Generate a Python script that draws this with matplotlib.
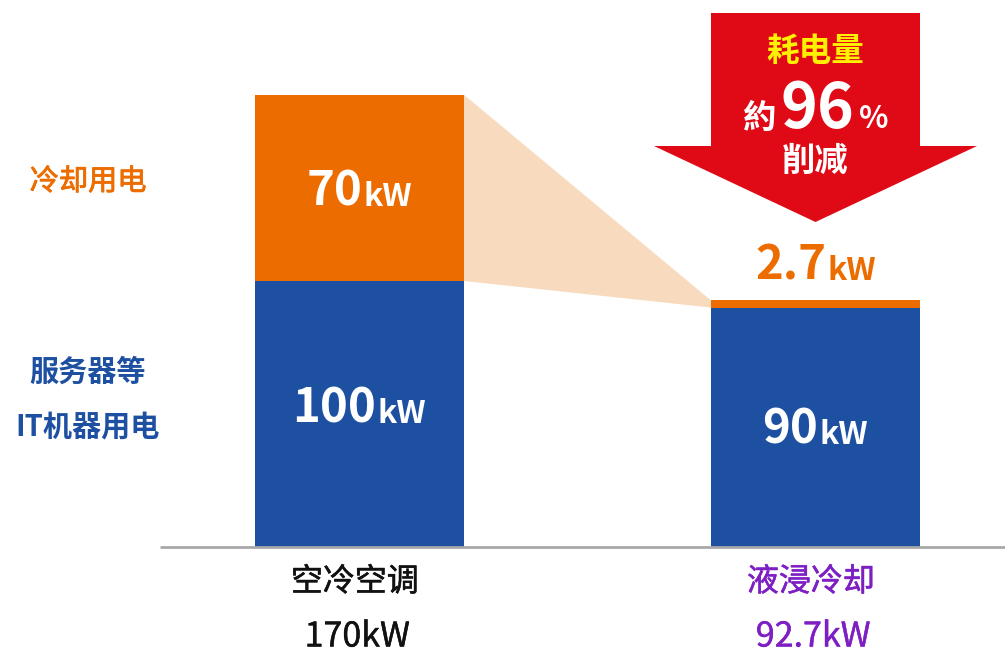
import matplotlib
matplotlib.use("Agg")
import matplotlib.pyplot as plt
from matplotlib.patches import Polygon
from matplotlib.offsetbox import TextArea, HPacker, AnnotationBbox
import matplotlib.patheffects as pe

plt.rcParams['font.family'] = ['Noto Sans CJK SC', 'DejaVu Sans']

# ---- data ----
categories = ['空冷空调', '液浸冷却']
totals_labels = ['170kW', '92.7kW']
it_power = [100, 90]          # 服务器等 IT机器用电 (kW)
cooling_power = [70, 2.7]     # 冷却用电 (kW)
it_labels = ['100', '90']
cooling_labels = ['70', '2.7']
series_names = ['冷却用电', '服务器等\nIT机器用电']
reduction_title = '耗电量'
reduction_pct = '96'
reduction_tail = '削减'

# ---- colours ----
C_ORANGE = '#EC6C00'
C_BLUE = '#1E50A2'
C_PEACH = '#F8DBBF'
C_RED = '#E00A17'
C_YELLOW = '#FFF100'
C_PURPLE = '#7E1FC4'
C_GRAY = '#A8A8A8'

W, H = 1005, 656
fig = plt.figure(figsize=(W / 100, H / 100), dpi=100)
ax = fig.add_axes([0, 0, 1, 1])

# scales: bars at 0 and 1 ; 456 px between centres ; 2.66 px per kW
PX_X = 456.0
PX_Y = 2.66
X0_PX = 359.5
BASE_PX = 547.0
ax.set_xlim(-X0_PX / PX_X, 1 + (W - (X0_PX + PX_X)) / PX_X)
ax.set_ylim(-(H - BASE_PX) / PX_Y, BASE_PX / PX_Y)
ax.axis('off')


def px2x(px):
    return (px - X0_PX) / PX_X


def px2y(py):
    return (BASE_PX - py) / PX_Y


x = [0, 1]
bw = 209 / PX_X

ax.bar(x, it_power, width=bw, color=C_BLUE, zorder=3)
ax.bar(x, cooling_power, width=bw, bottom=it_power, color=C_ORANGE, zorder=3)

# peach fan from left cooling block to right cooling block
l_right = x[0] + bw / 2
r_left = x[1] - bw / 2
fan = Polygon([(l_right, it_power[0] + cooling_power[0]),
               (l_right, it_power[0]),
               (r_left, it_power[1]),
               (r_left, it_power[1] + cooling_power[1])],
              closed=True, facecolor=C_PEACH, edgecolor='none', zorder=2)
ax.add_patch(fan)

# baseline
ax.plot([px2x(160), px2x(W)], [0, 0], color=C_GRAY, lw=2, zorder=4,
        solid_capstyle='butt')

# big red arrow above the right bar
shaft_l, shaft_r = x[1] - bw / 2, x[1] + bw / 2
arrow = Polygon([(shaft_l, px2y(13)), (shaft_r, px2y(13)),
                 (shaft_r, px2y(146)), (px2x(977), px2y(146)),
                 (x[1], px2y(222)),
                 (px2x(654), px2y(146)), (shaft_l, px2y(146))],
                closed=True, facecolor=C_RED, edgecolor='none', zorder=3)
ax.add_patch(arrow)


def packed(parts, xy, sep=1, zorder=6):
    boxes = [TextArea(s, textprops=dict(fontsize=fs, color=c, fontweight='bold'))
             for s, fs, c in parts]
    pk = HPacker(children=boxes, align='baseline', pad=0, sep=sep)
    ab = AnnotationBbox(pk, xy, xycoords='data', frameon=False,
                        box_alignment=(0.5, 0.5), pad=0, zorder=zorder)
    ax.add_artist(ab)


# value labels inside bars
packed([(it_labels[0], 34, 'white'), ('kW', 23, 'white')],
       (x[0], it_power[0] / 2 + 2))
packed([(cooling_labels[0], 34, 'white'), ('kW', 23, 'white')],
       (x[0], it_power[0] + cooling_power[0] / 2 - 1.5))
packed([(it_labels[1], 34, 'white'), ('kW', 23, 'white')],
       (x[1], it_power[1] / 2 - 1))
packed([(cooling_labels[1], 34, C_ORANGE), ('kW', 23, C_ORANGE)],
       (x[1], px2y(265.5)))

# arrow text
ax.text(x[1], px2y(51), reduction_title, color=C_YELLOW, fontsize=23.5,
        fontweight='bold', ha='center', va='center', zorder=6)
packed([('約', 24, 'white'), (reduction_pct, 45, 'white'), ('%', 22, 'white')],
       (x[1], px2y(109)), sep=3)
ax.text(x[1], px2y(161), reduction_tail, color='white', fontsize=24,
        fontweight='bold', ha='center', va='center', zorder=6)

# series labels on the left
thin = [pe.withStroke(linewidth=0.6, foreground=C_ORANGE)]
ax.text(px2x(88), px2y(182), series_names[0], color=C_ORANGE, fontsize=21,
        ha='center', va='center', path_effects=thin)
n1, n2 = series_names[1].split('\n')
ax.text(px2x(88), px2y(372), n1, color=C_BLUE, fontsize=21,
        ha='center', va='center', fontweight='bold')
ax.text(px2x(88), px2y(426), n2, color=C_BLUE, fontsize=21,
        ha='center', va='center', fontweight='bold')

# category labels and totals under the axis
cat_colors = ['#111111', C_PURPLE]
for xi, cat, tot, col in zip(x, categories, totals_labels, cat_colors):
    ax.text(xi - 0.01, px2y(582), cat, color=col, fontsize=23, ha='center',
            va='center',
            path_effects=[pe.withStroke(linewidth=0.4, foreground=col)])
    ax.text(xi - 0.005, px2y(637), tot, color=col, fontsize=24.5, ha='center',
            va='center',
            path_effects=[pe.withStroke(linewidth=0.3, foreground=col)])

fig.savefig('out.png', dpi=100)
